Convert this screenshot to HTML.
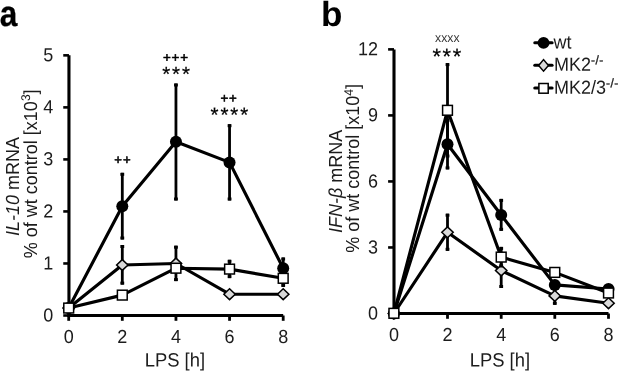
<!DOCTYPE html>
<html><head><meta charset="utf-8"><title>figure</title>
<style>html,body{margin:0;padding:0;background:#fff;}svg{display:block;will-change:transform;filter:blur(0.35px);}text{text-rendering:geometricPrecision;font-family:'Liberation Sans', sans-serif;}</style>
</head><body>
<svg width="618" height="371" viewBox="0 0 618 371">
<rect width="618" height="371" fill="#fff"/>
<line x1="68.95" y1="55.35" x2="68.95" y2="317.05" stroke="#000" stroke-width="3.1"/>
<line x1="67.40" y1="315.5" x2="283.20" y2="315.5" stroke="#000" stroke-width="3.1"/>
<line x1="63.25" y1="315.50" x2="68.95" y2="315.50" stroke="#000" stroke-width="2.6"/>
<text transform="translate(53.20 321.45) rotate(0.03) scale(1 1.05)" font-size="18" text-anchor="end"  fill="#1c1c1c">0</text>
<line x1="63.25" y1="263.47" x2="68.95" y2="263.47" stroke="#000" stroke-width="2.6"/>
<text transform="translate(53.20 269.42) rotate(0.03) scale(1 1.05)" font-size="18" text-anchor="end"  fill="#1c1c1c">1</text>
<line x1="63.25" y1="211.44" x2="68.95" y2="211.44" stroke="#000" stroke-width="2.6"/>
<text transform="translate(53.20 217.39) rotate(0.03) scale(1 1.05)" font-size="18" text-anchor="end"  fill="#1c1c1c">2</text>
<line x1="63.25" y1="159.41" x2="68.95" y2="159.41" stroke="#000" stroke-width="2.6"/>
<text transform="translate(53.20 165.36) rotate(0.03) scale(1 1.05)" font-size="18" text-anchor="end"  fill="#1c1c1c">3</text>
<line x1="63.25" y1="107.38" x2="68.95" y2="107.38" stroke="#000" stroke-width="2.6"/>
<text transform="translate(53.20 113.33) rotate(0.03) scale(1 1.05)" font-size="18" text-anchor="end"  fill="#1c1c1c">4</text>
<line x1="63.25" y1="55.35" x2="68.95" y2="55.35" stroke="#000" stroke-width="2.6"/>
<text transform="translate(53.20 61.30) rotate(0.03) scale(1 1.05)" font-size="18" text-anchor="end"  fill="#1c1c1c">5</text>
<line x1="68.70" y1="315.50" x2="68.70" y2="320.80" stroke="#000" stroke-width="2.8000000000000003"/>
<text transform="translate(68.70 343.00) rotate(0.03) scale(1 1.05)" font-size="18" text-anchor="middle"  fill="#1c1c1c">0</text>
<line x1="122.30" y1="315.50" x2="122.30" y2="320.80" stroke="#000" stroke-width="2.8000000000000003"/>
<text transform="translate(122.30 343.00) rotate(0.03) scale(1 1.05)" font-size="18" text-anchor="middle"  fill="#1c1c1c">2</text>
<line x1="175.95" y1="315.50" x2="175.95" y2="320.80" stroke="#000" stroke-width="2.8000000000000003"/>
<text transform="translate(175.95 343.00) rotate(0.03) scale(1 1.05)" font-size="18" text-anchor="middle"  fill="#1c1c1c">4</text>
<line x1="229.55" y1="315.50" x2="229.55" y2="320.80" stroke="#000" stroke-width="2.8000000000000003"/>
<text transform="translate(229.55 343.00) rotate(0.03) scale(1 1.05)" font-size="18" text-anchor="middle"  fill="#1c1c1c">6</text>
<line x1="283.20" y1="315.50" x2="283.20" y2="320.80" stroke="#000" stroke-width="2.8000000000000003"/>
<text transform="translate(283.20 343.00) rotate(0.03) scale(1 1.05)" font-size="18" text-anchor="middle"  fill="#1c1c1c">8</text>
<text transform="translate(174.90 366.50) rotate(0.03) scale(1 1.05)" font-size="18.4" text-anchor="middle"  fill="#1c1c1c">LPS [h]</text>
<text transform="translate(18.6 236) rotate(-90) scale(1 1.05)" font-size="18" fill="#1c1c1c"><tspan font-style="italic">IL-10</tspan> mRNA</text>
<text transform="translate(36.9 258.2) rotate(-90) scale(1 1.05)" font-size="18" fill="#1c1c1c">% of wt control [x10<tspan font-size="12" dy="-6.2">3</tspan><tspan dy="6.2">]</tspan></text>
<polyline points="68.70,308.05 122.30,206.20 175.95,141.70 229.55,162.40 283.20,268.30" fill="none" stroke="#000" stroke-width="3.15" stroke-linejoin="round" stroke-linecap="butt"/>
<line x1="122.30" y1="172.80" x2="122.30" y2="239.50" stroke="#000" stroke-width="2.8"/>
<rect x="120.40" y="172.80" width="3.8" height="3.0" fill="#000"/>
<rect x="120.40" y="236.50" width="3.8" height="3.0" fill="#000"/>
<line x1="175.95" y1="83.50" x2="175.95" y2="200.50" stroke="#000" stroke-width="2.8"/>
<rect x="174.05" y="83.50" width="3.8" height="3.0" fill="#000"/>
<rect x="174.05" y="197.50" width="3.8" height="3.0" fill="#000"/>
<line x1="229.55" y1="124.20" x2="229.55" y2="200.50" stroke="#000" stroke-width="2.8"/>
<rect x="227.65" y="124.20" width="3.8" height="3.0" fill="#000"/>
<rect x="227.65" y="197.50" width="3.8" height="3.0" fill="#000"/>
<line x1="283.20" y1="257.50" x2="283.20" y2="279.10" stroke="#000" stroke-width="2.8"/>
<rect x="281.30" y="257.50" width="3.8" height="3.0" fill="#000"/>
<rect x="281.30" y="276.10" width="3.8" height="3.0" fill="#000"/>
<circle cx="68.70" cy="308.05" r="6.0" fill="#000"/>
<circle cx="122.30" cy="206.20" r="6.0" fill="#000"/>
<circle cx="175.95" cy="141.70" r="6.0" fill="#000"/>
<circle cx="229.55" cy="162.40" r="6.0" fill="#000"/>
<circle cx="283.20" cy="268.30" r="6.0" fill="#000"/>
<polyline points="68.70,308.05 122.30,265.00 175.95,263.50 229.55,294.20 283.20,294.20" fill="none" stroke="#000" stroke-width="3.15" stroke-linejoin="round" stroke-linecap="butt"/>
<line x1="122.30" y1="245.00" x2="122.30" y2="284.60" stroke="#000" stroke-width="2.8"/>
<rect x="120.40" y="245.00" width="3.8" height="3.0" fill="#000"/>
<rect x="120.40" y="281.60" width="3.8" height="3.0" fill="#000"/>
<line x1="175.95" y1="245.70" x2="175.95" y2="281.10" stroke="#000" stroke-width="2.8"/>
<rect x="174.05" y="245.70" width="3.8" height="3.0" fill="#000"/>
<rect x="174.05" y="278.10" width="3.8" height="3.0" fill="#000"/>
<path d="M63.00 308.05 L68.70 302.65 L74.40 308.05 L68.70 313.45 Z" fill="#d9d9d9" stroke="#000" stroke-width="1.5" stroke-linejoin="miter"/>
<path d="M116.60 265.00 L122.30 259.60 L128.00 265.00 L122.30 270.40 Z" fill="#d9d9d9" stroke="#000" stroke-width="1.5" stroke-linejoin="miter"/>
<path d="M170.25 263.50 L175.95 258.10 L181.65 263.50 L175.95 268.90 Z" fill="#d9d9d9" stroke="#000" stroke-width="1.5" stroke-linejoin="miter"/>
<path d="M223.85 294.20 L229.55 288.80 L235.25 294.20 L229.55 299.60 Z" fill="#d9d9d9" stroke="#000" stroke-width="1.5" stroke-linejoin="miter"/>
<path d="M277.50 294.20 L283.20 288.80 L288.90 294.20 L283.20 299.60 Z" fill="#d9d9d9" stroke="#000" stroke-width="1.5" stroke-linejoin="miter"/>
<polyline points="68.70,308.05 122.30,295.10 175.95,268.20 229.55,269.10 283.20,278.30" fill="none" stroke="#000" stroke-width="3.15" stroke-linejoin="round" stroke-linecap="butt"/>
<line x1="229.55" y1="259.80" x2="229.55" y2="278.10" stroke="#000" stroke-width="2.8"/>
<rect x="227.65" y="259.80" width="3.8" height="3.0" fill="#000"/>
<rect x="227.65" y="275.10" width="3.8" height="3.0" fill="#000"/>
<line x1="283.20" y1="269.80" x2="283.20" y2="286.90" stroke="#000" stroke-width="2.8"/>
<rect x="281.30" y="269.80" width="3.8" height="3.0" fill="#000"/>
<rect x="281.30" y="283.90" width="3.8" height="3.0" fill="#000"/>
<rect x="63.80" y="303.15" width="9.8" height="9.8" fill="#fff" stroke="#000" stroke-width="1.5"/>
<rect x="117.40" y="290.20" width="9.8" height="9.8" fill="#fff" stroke="#000" stroke-width="1.5"/>
<rect x="171.05" y="263.30" width="9.8" height="9.8" fill="#fff" stroke="#000" stroke-width="1.5"/>
<rect x="224.65" y="264.20" width="9.8" height="9.8" fill="#fff" stroke="#000" stroke-width="1.5"/>
<rect x="278.30" y="273.40" width="9.8" height="9.8" fill="#fff" stroke="#000" stroke-width="1.5"/>
<text transform="translate(122.90 164.35) rotate(0.03) scale(1 1)" font-size="13.2" text-anchor="middle" fill="#000" stroke="#000" stroke-width="0.55" letter-spacing="0.85">++</text>
<text transform="translate(175.95 62.00) rotate(0.03) scale(1 1)" font-size="13.4" text-anchor="middle" fill="#000" stroke="#000" stroke-width="0.55" letter-spacing="0.85">+++</text>
<text transform="translate(176.95 81.00) rotate(0.03) scale(1 1)" font-size="20.5" text-anchor="middle" fill="#000" stroke="#000" stroke-width="0.25" letter-spacing="1.9">***</text>
<text transform="translate(229.00 102.85) rotate(0.03) scale(1 1)" font-size="13.3" text-anchor="middle" fill="#000" stroke="#000" stroke-width="0.55" letter-spacing="0.85">++</text>
<text transform="translate(230.30 121.80) rotate(0.03) scale(1 1)" font-size="20.5" text-anchor="middle" fill="#000" stroke="#000" stroke-width="0.25" letter-spacing="1.9">****</text>
<text transform="translate(-0.3 26.3) rotate(0.03) scale(0.89 1.02)" font-size="35.5" font-weight="bold" fill="#000" stroke="#000" stroke-width="0.3">a</text>
<text transform="translate(321.00 26.00) rotate(0.03) scale(1 1)" font-size="35" text-anchor="start" font-weight="bold" fill="#000">b</text>
<line x1="394.0" y1="49.38" x2="394.0" y2="315.05" stroke="#000" stroke-width="3.1"/>
<line x1="392.45" y1="313.5" x2="608.50" y2="313.5" stroke="#000" stroke-width="3.1"/>
<line x1="388.10" y1="313.50" x2="394.00" y2="313.50" stroke="#000" stroke-width="2.6"/>
<text transform="translate(378.00 319.45) rotate(0.03) scale(1 1.05)" font-size="18" text-anchor="end"  fill="#1c1c1c">0</text>
<line x1="388.10" y1="247.47" x2="394.00" y2="247.47" stroke="#000" stroke-width="2.6"/>
<text transform="translate(378.00 253.42) rotate(0.03) scale(1 1.05)" font-size="18" text-anchor="end"  fill="#1c1c1c">3</text>
<line x1="388.10" y1="181.44" x2="394.00" y2="181.44" stroke="#000" stroke-width="2.6"/>
<text transform="translate(378.00 187.39) rotate(0.03) scale(1 1.05)" font-size="18" text-anchor="end"  fill="#1c1c1c">6</text>
<line x1="388.10" y1="115.41" x2="394.00" y2="115.41" stroke="#000" stroke-width="2.6"/>
<text transform="translate(378.00 121.36) rotate(0.03) scale(1 1.05)" font-size="18" text-anchor="end"  fill="#1c1c1c">9</text>
<line x1="388.10" y1="49.38" x2="394.00" y2="49.38" stroke="#000" stroke-width="2.6"/>
<text transform="translate(378.00 55.33) rotate(0.03) scale(1 1.05)" font-size="18" text-anchor="end"  fill="#1c1c1c">12</text>
<line x1="393.90" y1="313.50" x2="393.90" y2="318.80" stroke="#000" stroke-width="2.8000000000000003"/>
<text transform="translate(393.90 340.90) rotate(0.03) scale(1 1.05)" font-size="18" text-anchor="middle"  fill="#1c1c1c">0</text>
<line x1="447.50" y1="313.50" x2="447.50" y2="318.80" stroke="#000" stroke-width="2.8000000000000003"/>
<text transform="translate(447.50 340.90) rotate(0.03) scale(1 1.05)" font-size="18" text-anchor="middle"  fill="#1c1c1c">2</text>
<line x1="501.20" y1="313.50" x2="501.20" y2="318.80" stroke="#000" stroke-width="2.8000000000000003"/>
<text transform="translate(501.20 340.90) rotate(0.03) scale(1 1.05)" font-size="18" text-anchor="middle"  fill="#1c1c1c">4</text>
<line x1="554.80" y1="313.50" x2="554.80" y2="318.80" stroke="#000" stroke-width="2.8000000000000003"/>
<text transform="translate(554.80 340.90) rotate(0.03) scale(1 1.05)" font-size="18" text-anchor="middle"  fill="#1c1c1c">6</text>
<line x1="608.50" y1="313.50" x2="608.50" y2="318.80" stroke="#000" stroke-width="2.8000000000000003"/>
<text transform="translate(608.50 340.90) rotate(0.03) scale(1 1.05)" font-size="18" text-anchor="middle"  fill="#1c1c1c">8</text>
<text transform="translate(499.90 366.60) rotate(0.03) scale(1 1.05)" font-size="18.4" text-anchor="middle"  fill="#1c1c1c">LPS [h]</text>
<text transform="translate(341.6 233.0) rotate(-90) scale(1 1.05)" font-size="18" fill="#1c1c1c"><tspan font-style="italic">IFN-β</tspan> mRNA</text>
<text transform="translate(359.1 252.8) rotate(-90) scale(1 1.05)" font-size="18" fill="#1c1c1c">% of wt control [x10<tspan font-size="12" dy="-6.2">4</tspan><tspan dy="6.2">]</tspan></text>
<polyline points="393.90,313.50 447.50,144.20 501.20,215.00 554.80,284.90 608.50,289.00" fill="none" stroke="#000" stroke-width="3.15" stroke-linejoin="round" stroke-linecap="butt"/>
<line x1="447.50" y1="119.10" x2="447.50" y2="169.40" stroke="#000" stroke-width="2.8"/>
<rect x="445.60" y="119.10" width="3.8" height="3.0" fill="#000"/>
<rect x="445.60" y="166.40" width="3.8" height="3.0" fill="#000"/>
<line x1="501.20" y1="198.90" x2="501.20" y2="230.80" stroke="#000" stroke-width="2.8"/>
<rect x="499.30" y="198.90" width="3.8" height="3.0" fill="#000"/>
<rect x="499.30" y="227.80" width="3.8" height="3.0" fill="#000"/>
<circle cx="393.90" cy="313.50" r="6.0" fill="#000"/>
<circle cx="447.50" cy="144.20" r="6.0" fill="#000"/>
<circle cx="501.20" cy="215.00" r="6.0" fill="#000"/>
<circle cx="554.80" cy="284.90" r="6.0" fill="#000"/>
<circle cx="608.50" cy="289.00" r="6.0" fill="#000"/>
<polyline points="393.90,313.50 447.50,232.30 501.20,270.50 554.80,295.90 608.50,303.20" fill="none" stroke="#000" stroke-width="3.15" stroke-linejoin="round" stroke-linecap="butt"/>
<line x1="447.50" y1="213.70" x2="447.50" y2="250.80" stroke="#000" stroke-width="2.8"/>
<rect x="445.60" y="213.70" width="3.8" height="3.0" fill="#000"/>
<rect x="445.60" y="247.80" width="3.8" height="3.0" fill="#000"/>
<line x1="501.20" y1="253.00" x2="501.20" y2="288.00" stroke="#000" stroke-width="2.8"/>
<rect x="499.30" y="253.00" width="3.8" height="3.0" fill="#000"/>
<rect x="499.30" y="285.00" width="3.8" height="3.0" fill="#000"/>
<line x1="554.80" y1="287.50" x2="554.80" y2="304.80" stroke="#000" stroke-width="2.8"/>
<rect x="552.90" y="287.50" width="3.8" height="3.0" fill="#000"/>
<rect x="552.90" y="301.80" width="3.8" height="3.0" fill="#000"/>
<path d="M388.20 313.50 L393.90 308.10 L399.60 313.50 L393.90 318.90 Z" fill="#d9d9d9" stroke="#000" stroke-width="1.5" stroke-linejoin="miter"/>
<path d="M441.80 232.30 L447.50 226.90 L453.20 232.30 L447.50 237.70 Z" fill="#d9d9d9" stroke="#000" stroke-width="1.5" stroke-linejoin="miter"/>
<path d="M495.50 270.50 L501.20 265.10 L506.90 270.50 L501.20 275.90 Z" fill="#d9d9d9" stroke="#000" stroke-width="1.5" stroke-linejoin="miter"/>
<path d="M549.10 295.90 L554.80 290.50 L560.50 295.90 L554.80 301.30 Z" fill="#d9d9d9" stroke="#000" stroke-width="1.5" stroke-linejoin="miter"/>
<path d="M602.80 303.20 L608.50 297.80 L614.20 303.20 L608.50 308.60 Z" fill="#d9d9d9" stroke="#000" stroke-width="1.5" stroke-linejoin="miter"/>
<polyline points="393.90,313.30 447.50,110.30 501.20,257.10 554.80,272.40 608.50,293.00" fill="none" stroke="#000" stroke-width="3.15" stroke-linejoin="round" stroke-linecap="butt"/>
<line x1="447.50" y1="63.10" x2="447.50" y2="157.50" stroke="#000" stroke-width="2.8"/>
<rect x="445.60" y="63.10" width="3.8" height="3.0" fill="#000"/>
<rect x="445.60" y="154.50" width="3.8" height="3.0" fill="#000"/>
<line x1="501.20" y1="246.90" x2="501.20" y2="267.30" stroke="#000" stroke-width="2.8"/>
<rect x="499.30" y="246.90" width="3.8" height="3.0" fill="#000"/>
<rect x="499.30" y="264.30" width="3.8" height="3.0" fill="#000"/>
<rect x="389.00" y="308.40" width="9.8" height="9.8" fill="#fff" stroke="#000" stroke-width="1.5"/>
<rect x="442.60" y="105.40" width="9.8" height="9.8" fill="#fff" stroke="#000" stroke-width="1.5"/>
<rect x="496.30" y="252.20" width="9.8" height="9.8" fill="#fff" stroke="#000" stroke-width="1.5"/>
<rect x="549.90" y="267.50" width="9.8" height="9.8" fill="#fff" stroke="#000" stroke-width="1.5"/>
<rect x="603.60" y="288.10" width="9.8" height="9.8" fill="#fff" stroke="#000" stroke-width="1.5"/>
<text transform="translate(447.30 42.00) rotate(0.03) scale(1 1.05)" font-size="12.2" text-anchor="middle" fill="#333">xxxx</text>
<text transform="translate(447.68 63.70) rotate(0.03) scale(1 1)" font-size="21.8" text-anchor="middle" fill="#000" stroke="#000" stroke-width="0.25" letter-spacing="1.65">***</text>
<line x1="534.8" y1="42.65" x2="552.1" y2="42.65" stroke="#000" stroke-width="3.05" stroke-linecap="round"/>
<circle cx="543.55" cy="42.90" r="5.95" fill="#000"/>
<line x1="534.8" y1="65.2" x2="552.1" y2="65.2" stroke="#000" stroke-width="3.05" stroke-linecap="round"/>
<path d="M538.65 65.40 L543.55 59.60 L548.45 65.40 L543.55 71.20 Z" fill="#d9d9d9" stroke="#000" stroke-width="1.5" stroke-linejoin="miter"/>
<line x1="534.8" y1="87.9" x2="552.1" y2="87.9" stroke="#000" stroke-width="3.05" stroke-linecap="round"/>
<rect x="538.90" y="83.50" width="9.3" height="9.7" fill="#fff" stroke="#000" stroke-width="1.5"/>
<text transform="translate(553.60 48.60) rotate(0.03) scale(1 1.05)" font-size="18" text-anchor="start"  fill="#1c1c1c">wt</text>
<text transform="translate(554.0 70.8) rotate(0.03) scale(1 1.05)" font-size="18" fill="#1c1c1c">MK2<tspan font-size="12" dy="-6.2" letter-spacing="0.45" stroke="#1c1c1c" stroke-width="0.3">-/-</tspan></text>
<text transform="translate(554.0 93.7) rotate(0.03) scale(1 1.05)" font-size="18" fill="#1c1c1c">MK2/3<tspan font-size="12" dy="-6.2" letter-spacing="0.45" stroke="#1c1c1c" stroke-width="0.3">-/-</tspan></text>
</svg>
</body></html>
